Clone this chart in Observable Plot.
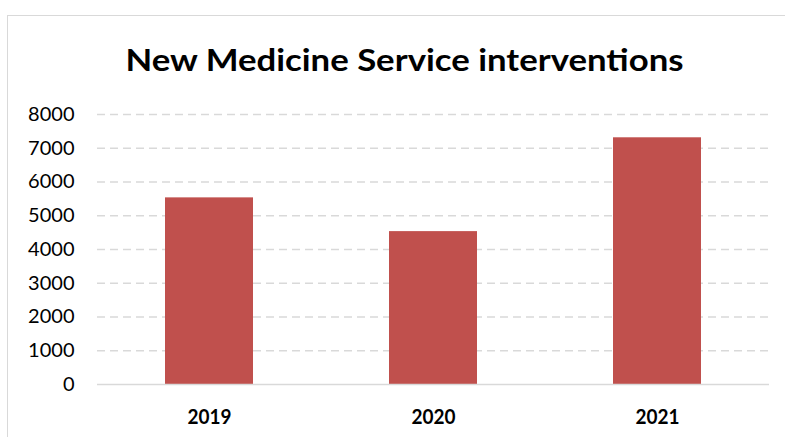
<!DOCTYPE html>
<html>
<head>
<meta charset="utf-8">
<script src="https://cdn.jsdelivr.net/npm/d3@7"></script>
<script src="https://cdn.jsdelivr.net/npm/@observablehq/plot@0.6"></script>
<style>
  html, body { margin: 0; padding: 0; background: #fff; }
  #wrap { position: relative; width: 785px; height: 437px; overflow: hidden; }
  #border { position: absolute; left: 7px; top: 15px; width: 820px; height: 500px; border: 1px solid #d9d9d9; box-sizing: border-box; }
  #chart { position: absolute; left: 0; top: 0; }
</style>
</head>
<body>
<div id="wrap"><div id="border"></div><div id="chart"></div></div>
<script>
const title = "New Medicine Service interventions";
const years = ["2019", "2020", "2021"];
const interventions = [5530, 4530, 7310];
const yTicks = [0, 1000, 2000, 3000, 4000, 5000, 6000, 7000, 8000];

const data = years.map((y, i) => ({year: y, value: interventions[i]}));

const plot = Plot.plot({
  width: 785,
  height: 437,
  marginTop: 114,
  marginBottom: 53,
  marginLeft: 97,
  marginRight: 16,
  style: {fontFamily: "Lato, 'Noto Sans', sans-serif", background: "transparent", overflow: "visible"},
  x: {domain: years, paddingInner: 0.607, paddingOuter: 0.3035, label: null, axis: null},
  y: {domain: [0, 8000], label: null, axis: null},
  marks: [
    Plot.ruleY(yTicks.filter(d => d > 0), {stroke: "#d9d9d9", strokeWidth: 1.5, strokeDasharray: "8,5"}),
    Plot.barY(data, {x: "year", y: "value", fill: "#C0504D"}),
    Plot.ruleY([0], {stroke: "#d9d9d9", strokeWidth: 1.5}),
    Plot.axisY(yTicks, {tickSize: 0, tickPadding: 23, fontSize: 20, fill: "#000", label: null, tickFormat: d => String(d)}),
    Plot.axisX(years, {tickSize: 0, tickPadding: 25, fontSize: 21, fontWeight: "bold", fill: "#000", label: null, className: "xlab"}),
    Plot.text([title], {frameAnchor: "top", lineAnchor: "bottom", dy: -44, dx: -29, fontSize: 31, fontWeight: "bold", fill: "#000", className: "ttl"})
  ]
});
document.getElementById("chart").appendChild(plot);

// condense bold texts to match the narrow typeface of the reference
d3.select(plot).selectAll(".ttl text").attr("textLength", 558).attr("lengthAdjust", "spacingAndGlyphs");
d3.select(plot).selectAll(".xlab text").attr("textLength", 44).attr("lengthAdjust", "spacingAndGlyphs");
</script>
</body>
</html>
